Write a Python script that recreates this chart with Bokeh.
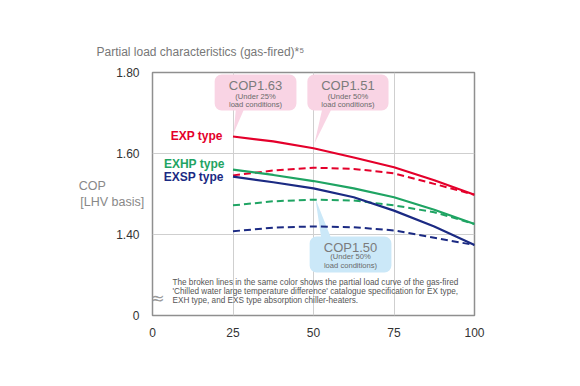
from bokeh.plotting import figure
from bokeh.models import Label, BoxAnnotation, FixedTicker, LinearAxis
from bokeh.embed import file_html
from bokeh.resources import INLINE

# ---- data ----
load = [25, 37.5, 50, 62.5, 75, 87.5, 100]
exp_solid = [1.642, 1.630, 1.613, 1.590, 1.566, 1.534, 1.498]
exp_dashed = [1.546, 1.558, 1.565, 1.562, 1.551, 1.525, 1.498]
exhp_solid = [1.560, 1.547, 1.532, 1.514, 1.492, 1.461, 1.426]
exhp_dashed = [1.472, 1.482, 1.486, 1.484, 1.472, 1.455, 1.426]
exsp_solid = [1.543, 1.529, 1.514, 1.492, 1.459, 1.420, 1.374]
exsp_dashed = [1.408, 1.417, 1.420, 1.418, 1.410, 1.392, 1.374]

series_names = ["EXP type", "EXHP type", "EXSP type"]
end_labels = ["1.50", "1.43", "1.38"]
x_ticks = [0, 25, 50, 75, 100]
y_ticks = [1.2, 1.4, 1.6, 1.8]
y_tick_labels = {1.2: "0", 1.4: "1.40", 1.6: "1.60", 1.8: "1.80"}
break_tick = [1.2444]

RED = "#e4002b"
GREEN = "#1fa463"
NAVY = "#1b2a83"
FONT = "Liberation Sans"

p = figure(width=572, height=378, x_range=(0, 100), y_range=(1.2, 1.8),
           output_backend="svg", toolbar_location=None,
           min_border_left=152, min_border_right=98,
           min_border_top=72, min_border_bottom=63)
p.background_fill_color = "white"
p.border_fill_color = "white"
p.outline_line_color = "#8f8f8f"
p.outline_line_width = 1.5

p.title.text = "Partial load characteristics (gas-fired)*\u2075"
p.title.align = "left"
p.title.offset = -56
p.title.standoff = 28
p.title.text_font = FONT
p.title.text_font_size = "12px"
p.title.text_font_style = "normal"
p.title.text_color = "#777777"

p.xaxis.ticker = FixedTicker(ticks=x_ticks)
p.yaxis.ticker = FixedTicker(ticks=y_ticks)
p.yaxis.major_label_overrides = y_tick_labels
for ax in (p.xaxis, p.yaxis):
    ax.axis_line_color = None
    ax.major_tick_line_color = None
    ax.minor_tick_line_color = None
    ax.major_label_text_font = FONT
    ax.major_label_text_font_size = "12px"
    ax.major_label_text_color = "#333333"
p.xaxis.major_label_standoff = 6
p.yaxis.major_label_standoff = 7

p.yaxis.axis_label = "COP" + "\u00a0" * 11 + "\n[LHV basis]"
p.yaxis.axis_label_orientation = "horizontal"
p.yaxis.axis_label_standoff = -31
p.yaxis.axis_label_text_font = FONT
p.yaxis.axis_label_text_font_size = "12.5px"
p.yaxis.axis_label_text_font_style = "normal"
p.yaxis.axis_label_text_color = "#888888"

# axis break mark at the frame's left edge
brk = LinearAxis(ticker=FixedTicker(ticks=break_tick), fixed_location=0,
                 major_label_overrides={break_tick[0]: "\u2248"})
brk.axis_line_color = None
brk.major_tick_line_color = None
brk.minor_tick_line_color = None
brk.major_label_standoff = -8
brk.major_label_text_font = "DejaVu Sans"
brk.major_label_text_font_size = "17px"
brk.major_label_text_color = "#9a9a9a"
p.add_layout(brk, "right")

p.xgrid.ticker = FixedTicker(ticks=[25, 50, 75])
p.ygrid.ticker = FixedTicker(ticks=[1.4, 1.6])
p.grid.grid_line_color = "#cfcfcf"
p.grid.grid_line_width = 1

PINK = "#f9d4e4"
SKY = "#cbe8f8"

# bubble pointers (drawn under the lines)
p.patch([25.2, 26.0, 29.0], [1.650, 1.720, 1.720], fill_color=PINK, line_color=None)
p.patch([50.3, 53.0, 56.2], [1.625, 1.720, 1.720], fill_color=PINK, line_color=None)
p.patch([50.6, 52.6, 56.0], [1.488, 1.380, 1.380], fill_color=SKY, line_color=None)

# curves
p.line(load, exp_dashed, line_color=RED, line_width=2, line_dash="7 4")
p.line(load, exhp_dashed, line_color=GREEN, line_width=2, line_dash="7 4")
p.line(load, exsp_dashed, line_color=NAVY, line_width=2, line_dash="7 4")
p.line(load, exp_solid, line_color=RED, line_width=2.2)
p.line(load, exhp_solid, line_color=GREEN, line_width=2.2)
p.line(load, exsp_solid, line_color=NAVY, line_width=2.2)

# bubbles
for (l, r, t, b, c) in [(19.3, 44.7, 1.795, 1.706, PINK),
                        (48.1, 73.3, 1.795, 1.706, PINK),
                        (48.8, 74.2, 1.395, 1.306, SKY)]:
    p.add_layout(BoxAnnotation(left=l, right=r, top=t, bottom=b, fill_color=c,
                               fill_alpha=1, line_color=None, border_radius=7))

def lab(x, y, text, size, color, align="center", bold=False):
    p.add_layout(Label(x=x, y=y, text=text,
                       text_font=FONT, text_font_size=size, text_color=color,
                       text_align=align, text_baseline="middle",
                       text_font_style="bold" if bold else "normal"))

for cx, cop, sub, ys in [(32.0, "COP1.63", "(Under 25%", (1.768, 1.741, 1.722)),
                         (60.7, "COP1.51", "(Under 50%", (1.768, 1.741, 1.722)),
                         (61.5, "COP1.50", "(Under 50%", (1.369, 1.346, 1.324))]:
    lab(cx, ys[0], cop, "13px", "#7b7b7b")
    lab(cx, ys[1], sub, "7.6px", "#6a6a6a")
    lab(cx, ys[2], "load conditions)", "7.6px", "#6a6a6a")

# series names
lab(21.8, 1.642, series_names[0], "12px", RED, align="right", bold=True)
lab(22.4, 1.573, series_names[1], "12px", GREEN, align="right", bold=True)
lab(22.1, 1.541, series_names[2], "12px", NAVY, align="right", bold=True)

# end values (right axes with coloured labels)
for txt, yy, c in zip(end_labels, [1.492, 1.406, 1.365], [RED, GREEN, NAVY]):
    ax = LinearAxis(ticker=FixedTicker(ticks=[yy]), major_label_overrides={yy: txt})
    ax.axis_line_color = None
    ax.major_tick_line_color = None
    ax.minor_tick_line_color = None
    ax.major_label_standoff = 6
    ax.major_label_text_font = FONT
    ax.major_label_text_font_size = "12px"
    ax.major_label_text_color = c
    ax.fixed_location = 100
    p.add_layout(ax, "right")

# note
note = ["The broken lines in the same color shows the partial load curve of the gas-fired",
        "'Chilled water large temperature difference' catalogue specification for EX type,",
        "EXH type, and EXS type absorption chiller-heaters."]
for line, yy in zip(note, [1.281, 1.259, 1.237]):
    lab(6.2, yy, line, "8.2px", "#555555", align="left")

open("out.html", "w").write(file_html(p, INLINE))
